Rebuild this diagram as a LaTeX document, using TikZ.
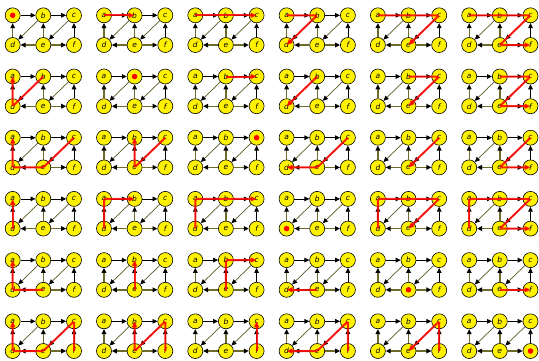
\documentclass[tikz,border=0pt]{standalone}
\usepackage{fontspec}
\usetikzlibrary{arrows.meta}
\newfontfamily\vtxfont{DejaVu Sans}
\definecolor{arcOlive}{HTML}{6E6A2C}
\definecolor{arcThin}{HTML}{5C5824}
\definecolor{routeRed}{HTML}{FF0000}
\tikzset{
  gridfig/.style={x=1pt, y=-1pt},
  vtx/.style={circle, draw=black, line width=0.6pt, fill=yellow, minimum size=15pt,
    inner sep=0pt, font=\vtxfont\itshape\fontsize{7.5}{7.5}\selectfont},
  arc/.style={draw=black, line width=0.8pt, -{Triangle[length=5pt, width=4.6pt, color=black]}},
  arcol/.style={arc, draw=arcOlive, line width=1.4pt},
  arthin/.style={arc, draw=arcThin, line width=0.7pt},
  route/.style={draw=routeRed, line width=2pt, opacity=0.85, rounded corners=1.5pt,
    -{Triangle[length=6pt, width=5pt]}},
  srcdot/.style={circle, fill=routeRed, minimum size=5.5pt, inner sep=0pt},
}
% one small graph: #1 column, #2 row, #3 start, #4 further stops (empty: start only)
\newcommand\drawpanel[4]{%
  \if\relax\detokenize{#4}\relax\def\hidden{#3}\else\def\hidden{none}\fi
  \begin{scope}[shift={({#1*91.3},{#2*61.2})}]
    \foreach \n/\x/\y in {a/12.7/15.3, b/43.3/15.3, c/74/15.3,
                          d/12.7/45, e/43.3/45, f/74/45}{
      \edef\cur{\n}
      \node[vtx] (p#1#2\n) at (\x,\y) {\ifx\cur\hidden\else\n\fi};
    }
    \foreach \u/\v/\s in {a/b/arc, b/c/arc, f/c/arc, d/a/arcol, e/b/arcol,
                          e/d/arcol, e/f/arcol, b/d/arthin, c/e/arthin}
      \draw[\s] (p#1#2\u) -- (p#1#2\v);
    \if\relax\detokenize{#4}\relax
      \node[srcdot] (s#1#2) at (p#1#2#3.center) {};
    \else
      \draw[route] (p#1#2#3.center) \foreach \t in {#4} { -- (p#1#2\t.center) };
    \fi
  \end{scope}
}

\begin{document}
\begin{tikzpicture}[gridfig]
  \useasboundingbox (0,0) rectangle (539,360);
  % row = start, column = goal
  \drawpanel{0}{0}{a}{}
  \drawpanel{1}{0}{a}{b}
  \drawpanel{2}{0}{a}{b,c}
  \drawpanel{3}{0}{a}{b,d}
  \drawpanel{4}{0}{a}{b,c,e}
  \drawpanel{5}{0}{a}{b,c,e,f}
  \drawpanel{0}{1}{b}{d,a}
  \drawpanel{1}{1}{b}{}
  \drawpanel{2}{1}{b}{c}
  \drawpanel{3}{1}{b}{d}
  \drawpanel{4}{1}{b}{c,e}
  \drawpanel{5}{1}{b}{c,e,f}
  \drawpanel{0}{2}{c}{e,d,a}
  \drawpanel{1}{2}{c}{e,b}
  \drawpanel{2}{2}{c}{}
  \drawpanel{3}{2}{c}{e,d}
  \drawpanel{4}{2}{c}{e}
  \drawpanel{5}{2}{c}{e,f}
  \drawpanel{0}{3}{d}{a}
  \drawpanel{1}{3}{d}{a,b}
  \drawpanel{2}{3}{d}{a,b,c}
  \drawpanel{3}{3}{d}{}
  \drawpanel{4}{3}{d}{a,b,c,e}
  \drawpanel{5}{3}{d}{a,b,c,e,f}
  \drawpanel{0}{4}{e}{d,a}
  \drawpanel{1}{4}{e}{b}
  \drawpanel{2}{4}{e}{b,c}
  \drawpanel{3}{4}{e}{d}
  \drawpanel{4}{4}{e}{}
  \drawpanel{5}{4}{e}{f}
  \drawpanel{0}{5}{f}{c,e,d,a}
  \drawpanel{1}{5}{f}{c,e,b}
  \drawpanel{2}{5}{f}{c}
  \drawpanel{3}{5}{f}{c,e,d}
  \drawpanel{4}{5}{f}{c,e}
  \drawpanel{5}{5}{f}{}
\end{tikzpicture}
\end{document}
